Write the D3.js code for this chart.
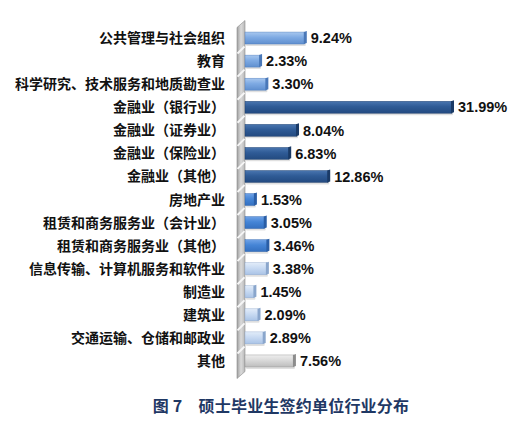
<!DOCTYPE html>
<html><head><meta charset="utf-8">
<script src="https://cdn.jsdelivr.net/npm/d3@7/dist/d3.min.js"></script>
<style>
html,body{margin:0;padding:0;background:#fff;}
svg{display:block;}
</style></head>
<body>
<script>
const categories = ["公共管理与社会组织","教育","科学研究、技术服务和地质勘查业","金融业（银行业）","金融业（证券业）","金融业（保险业）","金融业（其他）","房地产业","租赁和商务服务业（会计业）","租赁和商务服务业（其他）","信息传输、计算机服务和软件业","制造业","建筑业","交通运输、仓储和邮政业","其他"];
const values = [9.24,2.33,3.30,31.99,8.04,6.83,12.86,1.53,3.05,3.46,3.38,1.45,2.09,2.89,7.56];
const groups = ["a","a","a","b","b","b","b","c","c","c","d","d","d","d","e"];
const title = "图 7　硕士毕业生签约单位行业分布";

const W = 528, H = 436;
const svg = d3.select("body").append("svg").attr("width", W).attr("height", H);
const defs = svg.append("defs");

const palette = {
  a: {top:"#a9c8ef", mid:"#7eaae3", bot:"#5f8fcf", cap:"#4a78b8"},
  b: {top:"#4a76b0", mid:"#2f5b96", bot:"#234a80", cap:"#1a3a66"},
  c: {top:"#6fa2e6", mid:"#4585d6", bot:"#3470c0", cap:"#2a5ea6"},
  d: {top:"#e2ecf9", mid:"#c8daf2", bot:"#a9c3e6", cap:"#8aa6cc"},
  e: {top:"#eeeeee", mid:"#d9d9d9", bot:"#bdbdbd", cap:"#8c8c8c"}
};
Object.entries(palette).forEach(([k,c])=>{
  const g = defs.append("linearGradient").attr("id","g_"+k).attr("x1",0).attr("y1",0).attr("x2",0).attr("y2",1);
  g.append("stop").attr("offset","0%").attr("stop-color",c.top);
  g.append("stop").attr("offset","45%").attr("stop-color",c.mid);
  g.append("stop").attr("offset","100%").attr("stop-color",c.bot);
});
const wg = defs.append("linearGradient").attr("id","wall").attr("x1",0).attr("y1",0).attr("x2",1).attr("y2",0);
wg.append("stop").attr("offset","0%").attr("stop-color","#a0a0a0");
wg.append("stop").attr("offset","50%").attr("stop-color","#dadada");
wg.append("stop").attr("offset","100%").attr("stop-color","#b8b8b8");

const x0 = 245;
const x = d3.scaleLinear().domain([0, 31.99]).range([x0, 452]);
const y = d3.scaleBand().domain(categories).range([26.5, 372.5]).paddingInner(0.48).paddingOuter(0.24);

// wall
const wallTop = y.range()[0] - 6, wallBot = y.range()[1] + 6;
svg.append("path")
  .attr("d", `M237,${wallTop+7} L245,${wallTop} L245,${wallBot-7} L237,${wallBot} Z`)
  .attr("fill","url(#wall)").attr("stroke","#8a8a8a").attr("stroke-width",0.6);
const step = y.step();
const bounds = d3.range(categories.length + 1).map(i => y.range()[0] + i * step);
svg.append("g").selectAll("line").data(bounds.slice(1,-1)).join("line")
  .attr("x1",237.5).attr("x2",244.5)
  .attr("y1",d=>d+4).attr("y2",d=>d-3)
  .attr("stroke","#f6f6f6").attr("stroke-width",2);

// bars
const bars = svg.append("g");
const bh = y.bandwidth();
categories.forEach((c,i)=>{
  const p = palette[groups[i]];
  const yy = y(c);
  const xe = x(values[i]);
  bars.append("rect").attr("x", x0+1).attr("y", yy+2).attr("width", xe - x0).attr("height", bh)
    .attr("fill","#000").attr("opacity",0.12).attr("rx",1);
  bars.append("rect").attr("x", x0).attr("y", yy).attr("width", xe - x0).attr("height", bh)
    .attr("fill", `url(#g_${groups[i]})`).attr("stroke", p.cap).attr("stroke-width",0.4);
  bars.append("path")
    .attr("d", `M${xe-1},${yy} L${xe+2},${yy-1} L${xe+2},${yy+bh-1} L${xe-1},${yy+bh} Z`)
    .attr("fill", p.cap);
});

// value labels
svg.append("g").selectAll("text").data(values).join("text")
  .attr("x",(d)=>x(d)+6)
  .attr("y",(d,i)=>y(categories[i]) + bh/2)
  .attr("dy","0.36em")
  .attr("font-family","'Liberation Sans', Arial, sans-serif")
  .attr("font-weight","bold").attr("font-size",14.5).attr("fill","#111")
  .text(d=>d.toFixed(2)+"%");

// category labels via axis
const ax = svg.append("g").attr("transform","translate(225,0)")
  .call(d3.axisLeft(y).tickSize(0).tickPadding(0));
ax.select(".domain").remove();
ax.selectAll("text")
  .attr("font-family","'Noto Sans CJK SC', sans-serif")
  .attr("font-weight","bold").attr("font-size",14).attr("fill","#111")
  .attr("dy","0.36em");

// title
svg.append("text").attr("x",281).attr("y",412).attr("text-anchor","middle")
  .attr("font-family","'Noto Sans CJK SC', sans-serif").attr("font-weight","bold")
  .attr("font-size",16).attr("letter-spacing",0.2).attr("fill","#1f3864")
  .text(title);
</script>
</body></html>
